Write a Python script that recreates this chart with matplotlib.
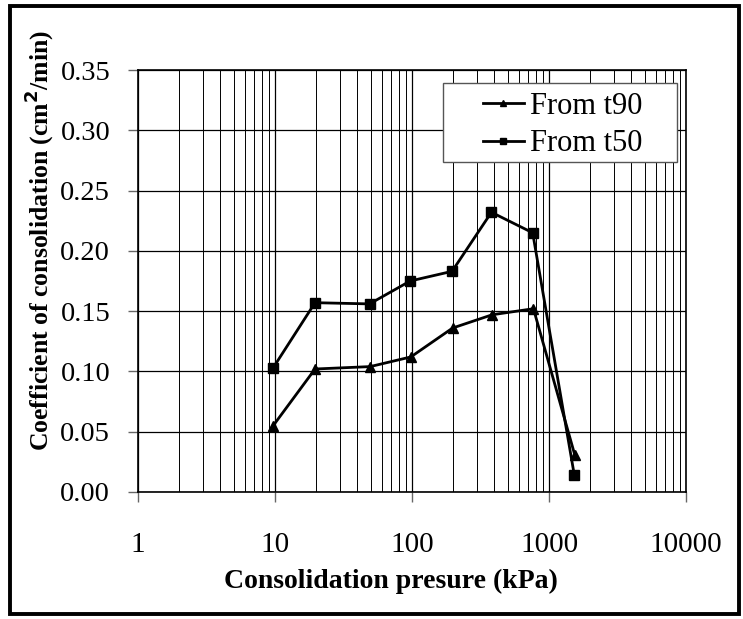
import matplotlib
matplotlib.use('Agg')
import matplotlib.pyplot as plt
from matplotlib.patches import Rectangle
from matplotlib.ticker import LogLocator, FixedLocator

plt.rcParams['font.family'] = ['Liberation Serif', 'DejaVu Serif']

# ── Data ─────────────────────────────────────────────────────
pressure_t90 = [9.7, 19.6, 49.5, 98, 198, 385, 770, 1540]
cv_t90 = [0.055, 0.102, 0.104, 0.112, 0.136, 0.147, 0.152, 0.031]

pressure_t50 = [9.7, 19.6, 49, 97, 196, 380, 760, 1530]
cv_t50 = [0.103, 0.157, 0.156, 0.175, 0.183, 0.232, 0.215, 0.014]

x_ticks = [1, 10, 100, 1000, 10000]
x_tick_labels = ["1", "10", "100", "1000", "10000"]
y_ticks = [0.00, 0.05, 0.10, 0.15, 0.20, 0.25, 0.30, 0.35]

fig = plt.figure(figsize=(7.43, 6.19), dpi=100)
ax = fig.add_axes([0.1857, 0.2052, 0.9233 - 0.1857, 0.8869 - 0.2052])

ax.plot(pressure_t90, cv_t90, color='black', linewidth=2, marker='^',
        markersize=7, label='From t90')
ax.plot(pressure_t50, cv_t50, color='black', linewidth=2, marker='s',
        markersize=6.5, label='From t50')

ax.set_xscale('log')
ax.set_xlim(1, 10000)
ax.set_ylim(0, 0.35)
ax.xaxis.set_major_locator(FixedLocator(x_ticks))
ax.set_xticklabels(x_tick_labels)
ax.xaxis.set_minor_locator(LogLocator(base=10, subs=range(2, 10)))
ax.set_yticks(y_ticks)
ax.set_yticklabels([f"{v:.2f}" for v in y_ticks])

ax.grid(which='major', axis='both', color='black', linewidth=0.9)
ax.grid(which='minor', axis='x', color='black', linewidth=0.7)
ax.set_axisbelow(True)

ax.tick_params(axis='both', which='major', direction='out', length=7,
               width=1, color='#666666')
ax.tick_params(axis='x', which='major', pad=22, labelsize=21)
ax.tick_params(axis='y', which='major', pad=13, labelsize=20.5)
ax.tick_params(axis='x', which='minor', length=0)
for s in ax.spines.values():
    s.set_linewidth(1.2)
    s.set_color('black')

ax.set_xlabel("Consolidation presure (kPa)", fontsize=20, fontweight='bold')
ax.xaxis.set_label_coords(0.4617, -0.182)
ax.set_ylabel("Coefficient of consolidation (cm$^{\\mathbf{2}}$/min)", fontsize=18.5,
              fontweight='bold')
ax.yaxis.set_label_coords(-0.149, 0.597)

# legend box (Excel style, wide left padding)
ax.add_patch(Rectangle((0.5566, 0.782), 0.9836 - 0.5566, 0.969 - 0.782,
                       transform=ax.transAxes, facecolor='white',
                       edgecolor='#555555', linewidth=1.0, zorder=4.5))
leg = ax.legend(loc='center left', bbox_to_anchor=(0.6296, 0.8697), fontsize=22,
                frameon=False, handlelength=1.34, handletextpad=0.2, borderpad=0,
                borderaxespad=0, labelspacing=0.28, markerscale=0.7)
leg.set_zorder(5)

# figure border
fig.patches.append(Rectangle((0.013, 0.008), 0.982, 0.982, transform=fig.transFigure,
                             fill=False, edgecolor='black', linewidth=2.8))

fig.savefig("out.png", dpi=100)
